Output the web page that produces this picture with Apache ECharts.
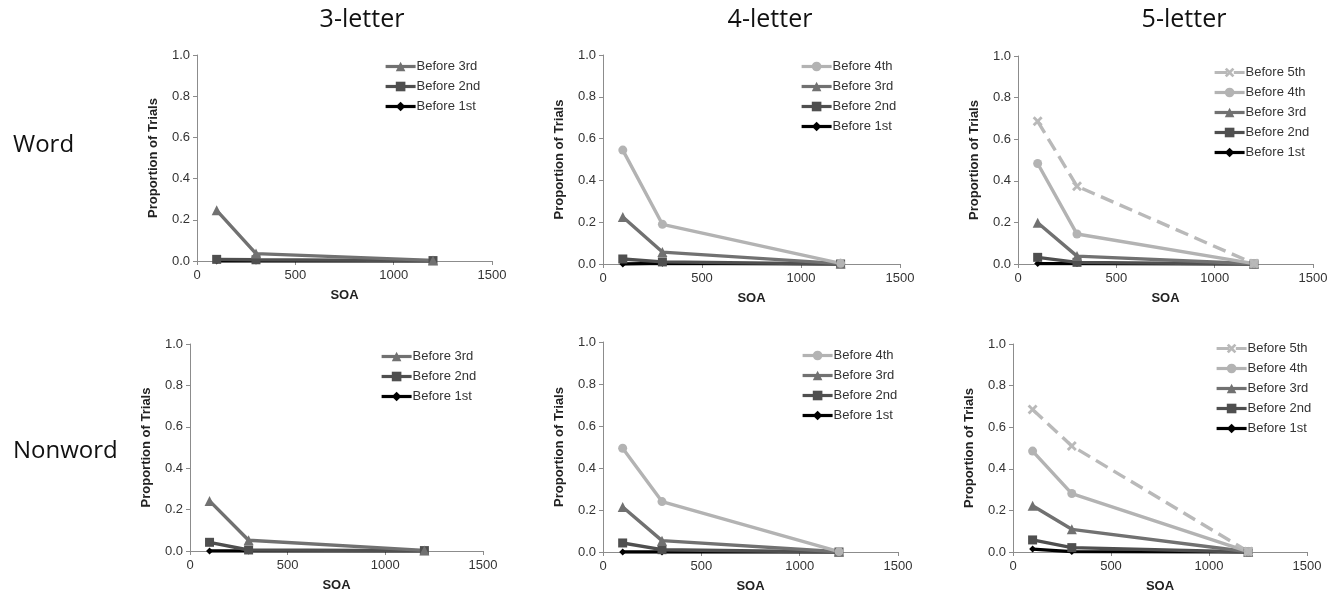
<!DOCTYPE html>
<html><head><meta charset="utf-8">
<script src="https://cdn.jsdelivr.net/npm/echarts@6/dist/echarts.min.js"></script>
<style>html,body{margin:0;padding:0;background:#fff}#c{width:1342px;height:596px}</style>
</head><body><div id="c"></div>
<script>
// ---- data ----
const soa = [100, 300, 1200];
const xTicks = [0, 500, 1000, 1500];
const yTicks = [0, 0.2, 0.4, 0.6, 0.8, 1.0];
const columnTitles = ['3-letter', '4-letter', '5-letter'];
const rowTitles = ['Word', 'Nonword'];
const seriesNames = ['Before 5th', 'Before 4th', 'Before 3rd', 'Before 2nd', 'Before 1st'];

// Word, 3-letter
const word3_before3 = [0.246, 0.036, 0.003];
const word3_before2 = [0.008, 0.006, 0.002];
const word3_before1 = [0.0, 0.0, 0.0];
// Word, 4-letter
const word4_before4 = [0.545, 0.19, 0.003];
const word4_before3 = [0.225, 0.057, 0.002];
const word4_before2 = [0.024, 0.01, 0.0];
const word4_before1 = [0.0, 0.003, 0.0];
// Word, 5-letter
const word5_before5 = [0.686, 0.374, 0.002];
const word5_before4 = [0.483, 0.144, 0.002];
const word5_before3 = [0.198, 0.038, 0.001];
const word5_before2 = [0.032, 0.008, 0.0];
const word5_before1 = [0.002, 0.002, 0.0];
// Nonword, 3-letter
const non3_before3 = [0.242, 0.052, 0.003];
const non3_before2 = [0.042, 0.005, 0.002];
const non3_before1 = [0.0, 0.0, 0.0];
// Nonword, 4-letter
const non4_before4 = [0.494, 0.24, 0.002];
const non4_before3 = [0.214, 0.054, 0.001];
const non4_before2 = [0.043, 0.011, 0.0];
const non4_before1 = [0.0, 0.0, 0.0];
// Nonword, 5-letter
const non5_before5 = [0.685, 0.51, 0.002];
const non5_before4 = [0.485, 0.281, 0.002];
const non5_before3 = [0.222, 0.109, 0.001];
const non5_before2 = [0.058, 0.021, 0.0];
const non5_before1 = [0.014, 0.002, 0.0];

// ---- panels ----
const panels = [
  {b3: word3_before3, b2: word3_before2, b1: word3_before1},
  {b4: word4_before4, b3: word4_before3, b2: word4_before2, b1: word4_before1},
  {b5: word5_before5, b4: word5_before4, b3: word5_before3, b2: word5_before2, b1: word5_before1},
  {b3: non3_before3, b2: non3_before2, b1: non3_before1},
  {b4: non4_before4, b3: non4_before3, b2: non4_before2, b1: non4_before1},
  {b5: non5_before5, b4: non5_before4, b3: non5_before3, b2: non5_before2, b1: non5_before1}
];
const keyToName = {b5: 'Before 5th', b4: 'Before 4th', b3: 'Before 3rd', b2: 'Before 2nd', b1: 'Before 1st'};

// ---- layout & style ----
const grids = [
  {left: 197, top: 55, width: 295, height: 206},
  {left: 603, top: 55, width: 297, height: 209},
  {left: 1018, top: 56, width: 295, height: 208},
  {left: 190, top: 344, width: 293, height: 207},
  {left: 603, top: 342, width: 295, height: 210},
  {left: 1013, top: 344, width: 294, height: 208}
];
const legendPos = [
  {left: 384, top: 60}, {left: 800, top: 60}, {left: 1213, top: 66},
  {left: 380, top: 350}, {left: 801, top: 349}, {left: 1215, top: 342}
];
const xPath = 'path://M0,2 L2,0 L5,3 L8,0 L10,2 L7,5 L10,8 L8,10 L5,7 L2,10 L0,8 L3,5 Z';
const styles = {
  'Before 5th': {color: '#b9b9b9', symbol: xPath, size: 10, dash: 'dashed'},
  'Before 4th': {color: '#b3b3b3', symbol: 'circle', size: 9, dash: 'solid'},
  'Before 3rd': {color: '#717171', symbol: 'triangle', size: 10, dash: 'solid'},
  'Before 2nd': {color: '#4f4f4f', symbol: 'rect', size: 9, dash: 'solid'},
  'Before 1st': {color: '#000000', symbol: 'diamond', size: 7, dash: 'solid'}
};
const axisColor = '#8c8c8c';
const tickFont = {fontFamily: 'Liberation Sans, Arial, sans-serif', fontSize: 13, color: '#333'};

const option = {
  backgroundColor: '#fff',
  animation: false,
  title: [],
  grid: [], xAxis: [], yAxis: [], legend: [], series: []
};

columnTitles.forEach((t, i) => {
  option.title.push({text: t, left: [357, 765, 1179][i], top: 2, textAlign: 'center',
    textStyle: {fontFamily: 'Open Sans, sans-serif', fontWeight: 'normal', fontSize: 25, color: '#111'}});
});
rowTitles.forEach((t, i) => {
  option.title.push({text: t, left: 8, top: [128, 434][i],
    textStyle: {fontFamily: 'Open Sans, sans-serif', fontWeight: 'normal', fontSize: 24, color: '#111'}});
});

panels.forEach((p, gi) => {
  option.grid.push(Object.assign({containLabel: false}, grids[gi]));
  option.xAxis.push({
    type: 'value', gridIndex: gi, min: 0, max: 1500, interval: 500,
    name: 'SOA', nameLocation: 'middle', nameGap: 28,
    nameTextStyle: {fontFamily: 'Liberation Sans, Arial, sans-serif', fontSize: 13, fontWeight: 'bold', color: '#222'},
    axisLine: {show: true, lineStyle: {color: axisColor, width: 1}},
    axisTick: {show: true, length: 4, lineStyle: {color: axisColor}},
    axisLabel: Object.assign({margin: 8, formatter: v => String(v)}, tickFont),
    splitLine: {show: false}
  });
  option.yAxis.push({
    type: 'value', gridIndex: gi, min: 0, max: 1, interval: 0.2,
    name: 'Proportion of Trials', nameLocation: 'middle', nameGap: 37, nameRotate: 90,
    nameTextStyle: {fontFamily: 'Liberation Sans, Arial, sans-serif', fontSize: 13, fontWeight: 'bold', color: '#222'},
    axisLine: {show: true, lineStyle: {color: axisColor, width: 1}},
    axisTick: {show: true, length: 4, lineStyle: {color: axisColor}},
    axisLabel: Object.assign({margin: 7, formatter: v => v.toFixed(1)}, tickFont),
    splitLine: {show: false}
  });
  const names = Object.keys(p).map(k => keyToName[k]);
  option.legend.push({
    orient: 'vertical', left: legendPos[gi].left, top: legendPos[gi].top,
    itemWidth: 30, itemHeight: 12, itemGap: 7, padding: 0,
    data: names,
    lineStyle: {width: 3.2},
    textStyle: {fontFamily: 'Liberation Sans, Arial, sans-serif', fontSize: 13, color: '#333', padding: [0, 0, 0, -4]},
    selectedMode: false
  });
  // draw from Before 1st up so lighter series on top
  Object.keys(p).slice().reverse().forEach(k => {
    const name = keyToName[k];
    const s = styles[name];
    option.series.push({
      type: 'line', name: name, xAxisIndex: gi, yAxisIndex: gi,
      data: soa.map((x, i) => [x, p[k][i]]),
      symbol: s.symbol, symbolSize: s.size, showSymbol: true,
      lineStyle: {color: s.color, width: 3.4, type: s.dash},
      itemStyle: {color: s.color},
      emphasis: {disabled: true}
    });
  });
});

const chart = echarts.init(document.getElementById('c'), null, {renderer: 'canvas'});
chart.setOption(option);
</script>
</body></html>
